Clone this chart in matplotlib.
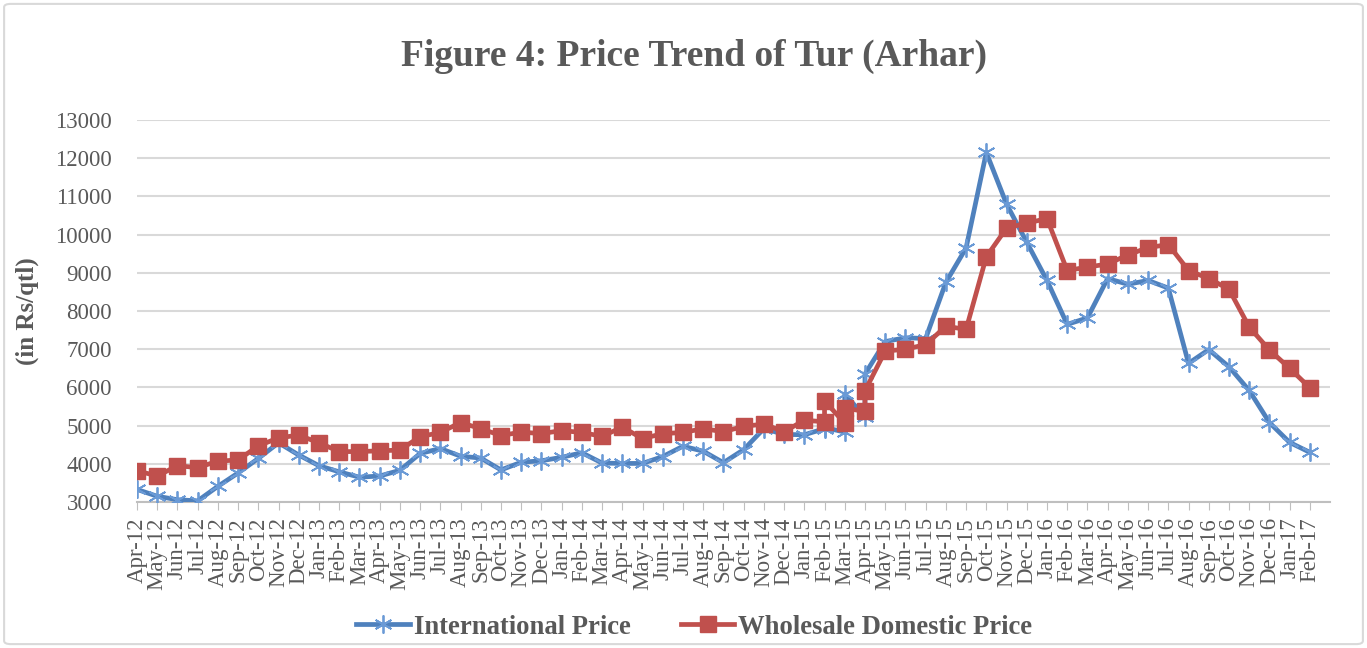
# Price trend of Tur (Arhar): international vs wholesale domestic price

import matplotlib
matplotlib.use("Agg")
from matplotlib import pyplot as plt
from matplotlib.patches import FancyBboxPatch

# month labels on the axis (one tick per month)
months = ['Apr-12', 'May-12', 'Jun-12', 'Jul-12', 'Aug-12', 'Sep-12', 'Oct-12', 'Nov-12',
          'Dec-12', 'Jan-13', 'Feb-13', 'Mar-13', 'Apr-13', 'May-13', 'Jun-13', 'Jul-13',
          'Aug-13', 'Sep-13', 'Oct-13', 'Nov-13', 'Dec-13', 'Jan-14', 'Feb-14', 'Mar-14',
          'Apr-14', 'May-14', 'Jun-14', 'Jul-14', 'Aug-14', 'Sep-14', 'Oct-14', 'Nov-14',
          'Dec-14', 'Jan-15', 'Feb-15', 'Mar-15', 'Apr-15', 'May-15', 'Jun-15', 'Jul-15',
          'Aug-15', 'Sep-15', 'Oct-15', 'Nov-15', 'Dec-15', 'Jan-16', 'Feb-16', 'Mar-16',
          'Apr-16', 'May-16', 'Jun-16', 'Jul-16', 'Aug-16', 'Sep-16', 'Oct-16', 'Nov-16',
          'Dec-16', 'Jan-17', 'Feb-17']

# month of each data point (Feb-15, Mar-15 and Apr-15 have two readings)
point_months = ['Apr-12', 'May-12', 'Jun-12', 'Jul-12', 'Aug-12', 'Sep-12', 'Oct-12', 'Nov-12',
                'Dec-12', 'Jan-13', 'Feb-13', 'Mar-13', 'Apr-13', 'May-13', 'Jun-13', 'Jul-13',
                'Aug-13', 'Sep-13', 'Oct-13', 'Nov-13', 'Dec-13', 'Jan-14', 'Feb-14', 'Mar-14',
                'Apr-14', 'May-14', 'Jun-14', 'Jul-14', 'Aug-14', 'Sep-14', 'Oct-14', 'Nov-14',
                'Dec-14', 'Jan-15', 'Feb-15', 'Feb-15', 'Mar-15', 'Mar-15', 'Apr-15', 'Apr-15',
                'May-15', 'Jun-15', 'Jul-15', 'Aug-15', 'Sep-15', 'Oct-15', 'Nov-15', 'Dec-15',
                'Jan-16', 'Feb-16', 'Mar-16', 'Apr-16', 'May-16', 'Jun-16', 'Jul-16', 'Aug-16',
                'Sep-16', 'Oct-16', 'Nov-16', 'Dec-16', 'Jan-17', 'Feb-17']

intl_price = [3330, 3150, 3060, 3030, 3410, 3760, 4140, 4550,
              4230, 3950, 3790, 3650, 3680, 3830, 4270, 4400,
              4200, 4150, 3840, 4040, 4080, 4170, 4290, 4020,
              4010, 4010, 4190, 4460, 4330, 4030, 4370, 4920,
              4770, 4760, 4920, 4950, 4830, 5830, 5220, 6350,
              7200, 7300, 7280, 8750, 9650, 12150, 10800, 9800,
              8800, 7650, 7820, 8850, 8700, 8800, 8600, 6630,
              6990, 6540, 5920, 5080, 4560, 4300]

wholesale_price = [3820, 3680, 3950, 3900, 4070, 4100, 4470, 4680,
                   4750, 4550, 4320, 4320, 4340, 4360, 4710, 4820,
                   5080, 4920, 4740, 4830, 4790, 4870, 4820, 4720,
                   4960, 4660, 4790, 4820, 4920, 4840, 4980, 5040,
                   4840, 5140, 5100, 5650, 5060, 5460, 5370, 5910,
                   6950, 7000, 7120, 7600, 7520, 9420, 10170, 10300,
                   10420, 9060, 9150, 9230, 9470, 9660, 9740, 9060,
                   8850, 8570, 7580, 6980, 6500, 5990]

BLUE = '#4F81BD'
RED = '#C0504D'
GREY = '#595959'
SERIF = ['Liberation Serif', 'DejaVu Serif']

plt.rcParams['font.family'] = SERIF

xpos = [months.index(m) for m in point_months]

fig = plt.figure(figsize=(13.67, 6.48), dpi=100)
ax = fig.add_axes([0.1002, 0.2253, 0.8728, 0.5895])

ax.plot(xpos, intl_price, color=BLUE, lw=3.4, marker=(6, 2, 0), ms=13,
        mec='#6A9AD6', mew=1.3, label='International Price', zorder=3)
ax.plot(xpos, wholesale_price, color=RED, lw=3.4, marker='s', ms=11,
        mec=RED, mfc=RED, label='Wholesale Domestic Price', zorder=4)

ax.set_xlim(0, len(months))
ax.set_ylim(3000, 13000)
ax.set_yticks(range(3000, 13001, 1000))
ax.set_xticks(range(len(months)))
ax.set_xticklabels(months, rotation=90, fontsize=16.5, color=GREY)
ax.tick_params(axis='y', length=0, pad=18, labelsize=16.5, labelcolor=GREY)
ax.tick_params(axis='x', direction='out', length=6, color='#BFBFBF', pad=5)

ax.grid(axis='y', color='#D9D9D9', lw=1.5)
ax.set_axisbelow(True)
for s in ['top', 'right', 'left']:
    ax.spines[s].set_visible(False)
ax.spines['bottom'].set_color('#BFBFBF')
ax.spines['bottom'].set_linewidth(1.5)

ax.set_ylabel('(in Rs/qtl)', fontsize=18, fontweight='bold', color=GREY, labelpad=12)
fig.text(0.508, 0.913, 'Figure 4: Price Trend of Tur (Arhar)', ha='center', va='center',
         fontsize=27, fontweight='bold', color=GREY)

leg = fig.legend(loc='center', bbox_to_anchor=(0.508, 0.032), ncol=2, frameon=False,
                 prop={'size': 19.2, 'weight': 'bold'}, handlelength=2.0,
                 handletextpad=0.15, columnspacing=1.9)
for t in leg.get_texts():
    t.set_color(GREY)

# light frame round the chart area
fig.patches.append(FancyBboxPatch((0.003, 0.006), 0.994, 0.988,
                                  boxstyle='round,pad=0,rounding_size=0.005',
                                  transform=fig.transFigure, fill=False,
                                  ec='#D9D9D9', lw=1.5))

plt.savefig('out.png', dpi=100)
